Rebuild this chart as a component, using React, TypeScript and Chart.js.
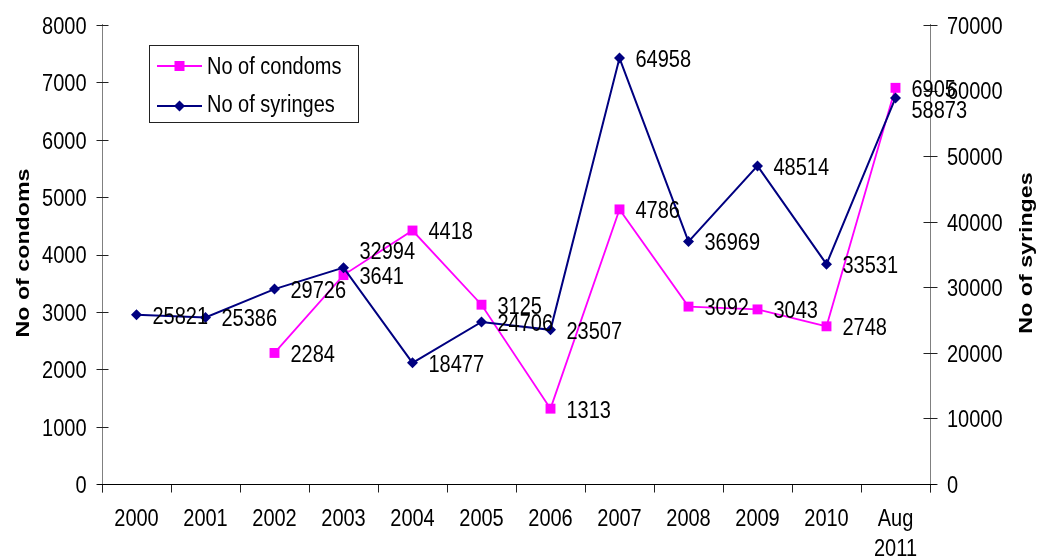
import React, { useEffect, useRef } from "react";
import { Chart, registerables } from "chart.js";

Chart.register(...registerables);

const categories: (string | string[])[] = [
  "2000", "2001", "2002", "2003", "2004", "2005", "2006", "2007", "2008", "2009", "2010", ["Aug", "2011"],
];
const condoms: (number | null)[] = [null, null, 2284, 3641, 4418, 3125, 1313, 4786, 3092, 3043, 2748, 6905];
const syringes: number[] = [25821, 25386, 29726, 32994, 18477, 24706, 23507, 64958, 36969, 48514, 33531, 58873];
const leftTicks = { min: 0, max: 8000, step: 1000 };
const rightTicks = { min: 0, max: 70000, step: 10000 };
const seriesNames = ["No of condoms", "No of syringes"];
const axisTitles = ["No of condoms", "No of syringes"];

// label nudges (style only)
const labelShift: Record<string, number> = { "1-3": -18, "1-11": 11 };

const PINK = "#FF00FF";
const NAVY = "#000080";
const FS = 20;
const SY = 1.24;
const FONT = `${FS}px "Liberation Sans", Arial, sans-serif`;
const BFS = 18.3;
const BFONT = `bold ${BFS}px "Liberation Sans", Arial, sans-serif`;

function txt(ctx: CanvasRenderingContext2D, s: string, x: number, cy: number, align: CanvasTextAlign, font = FONT, fs = FS) {
  ctx.save();
  ctx.translate(x, cy + 0.358 * fs * SY);
  ctx.scale(1, SY);
  ctx.font = font;
  ctx.textAlign = align;
  ctx.textBaseline = "alphabetic";
  ctx.fillStyle = "#000";
  ctx.fillText(s, 0, 0);
  ctx.restore();
}

function rotTxt(ctx: CanvasRenderingContext2D, s: string, baseX: number, cy: number) {
  ctx.save();
  ctx.translate(baseX, cy);
  ctx.rotate(-Math.PI / 2);
  ctx.scale(1.27, 1);
  ctx.font = BFONT;
  ctx.textAlign = "center";
  ctx.textBaseline = "alphabetic";
  ctx.fillStyle = "#000";
  ctx.fillText(s, 0, 0);
  ctx.restore();
}

const decorPlugin = {
  id: "decor",
  beforeDatasetsDraw(chart: any) {
    const ctx: CanvasRenderingContext2D = chart.ctx;
    const xs = chart.scales.x;
    const yl = chart.scales.y;
    const yr = chart.scales.y1;
    const a = chart.chartArea;
    const L = Math.round(a.left) + 0.5;
    const R = Math.round(a.right) + 0.5;
    const B = Math.round(a.bottom) + 0.5;
    ctx.save();
    ctx.lineWidth = 1;
    ctx.strokeStyle = "#808080";
    ctx.beginPath();
    ctx.moveTo(L, a.top - 1);
    ctx.lineTo(L, B + 8);
    ctx.moveTo(R, a.top - 1);
    ctx.lineTo(R, B + 8);
    ctx.stroke();
    ctx.strokeStyle = "#222";
    ctx.beginPath();
    for (let v = leftTicks.min; v <= leftTicks.max; v += leftTicks.step) {
      const y = Math.round(yl.getPixelForValue(v)) + 0.5;
      ctx.moveTo(L - 6, y);
      ctx.lineTo(L + 6, y);
    }
    for (let v = rightTicks.min; v <= rightTicks.max; v += rightTicks.step) {
      const y = Math.round(yr.getPixelForValue(v)) + 0.5;
      ctx.moveTo(R - 7, y);
      ctx.lineTo(R + 7, y);
    }
    const sp = xs.getPixelForValue(1) - xs.getPixelForValue(0);
    for (let i = 0; i <= categories.length; i++) {
      const x = Math.round(xs.getPixelForValue(i) - sp / 2) + 0.5;
      ctx.moveTo(x, B);
      ctx.lineTo(x, B + 8);
    }
    ctx.stroke();
    ctx.strokeStyle = "#000";
    ctx.beginPath();
    ctx.moveTo(L - 5, B);
    ctx.lineTo(R + 6, B);
    ctx.stroke();
    ctx.restore();

    for (let v = leftTicks.min; v <= leftTicks.max; v += leftTicks.step) {
      txt(ctx, String(v), L - 16, yl.getPixelForValue(v), "right");
    }
    for (let v = rightTicks.min; v <= rightTicks.max; v += rightTicks.step) {
      txt(ctx, String(v), R + 16.5, yr.getPixelForValue(v), "left");
    }
    categories.forEach((c, i) => {
      const x = xs.getPixelForValue(i);
      const lines = Array.isArray(c) ? c : [c];
      lines.forEach((ln, k) => txt(ctx, ln, x, B + 33 + k * 30, "center"));
    });
    rotTxt(ctx, axisTitles[0], 28.5, 253);
    rotTxt(ctx, axisTitles[1], 1031.5, 253);
  },
  afterDatasetsDraw(chart: any) {
    const ctx: CanvasRenderingContext2D = chart.ctx;
    chart.data.datasets.forEach((ds: any, di: number) => {
      const meta = chart.getDatasetMeta(di);
      meta.data.forEach((el: any, i: number) => {
        const v = ds.data[i];
        if (v === null || v === undefined) return;
        const sh = labelShift[`${di}-${i}`] || 0;
        txt(ctx, String(v), el.x + 16, el.y + sh, "left");
      });
    });
    ctx.save();
    ctx.fillStyle = "#fff";
    ctx.fillRect(150, 45, 208, 77);
    ctx.strokeStyle = "#222";
    ctx.lineWidth = 1;
    ctx.strokeRect(149.5, 45.5, 209, 77);
    const rows = [
      { y: 66, ty: 65, color: PINK, name: seriesNames[0], shape: "sq" },
      { y: 106, ty: 103, color: NAVY, name: seriesNames[1], shape: "dm" },
    ];
    rows.forEach((r) => {
      ctx.strokeStyle = r.color;
      ctx.lineWidth = 2;
      ctx.beginPath();
      ctx.moveTo(157, r.y);
      ctx.lineTo(202, r.y);
      ctx.stroke();
      ctx.fillStyle = r.color;
      const cx = 179.5;
      if (r.shape === "sq") {
        ctx.fillRect(cx - 5, r.y - 5, 10, 10);
      } else {
        ctx.beginPath();
        ctx.moveTo(cx, r.y - 5.5);
        ctx.lineTo(cx + 5.5, r.y);
        ctx.lineTo(cx, r.y + 5.5);
        ctx.lineTo(cx - 5.5, r.y);
        ctx.closePath();
        ctx.fill();
      }
      txt(ctx, r.name, 207, r.ty, "left");
    });
    ctx.restore();
  },
};

export default function App() {
  const ref = useRef<HTMLCanvasElement | null>(null);
  useEffect(() => {
    if (!ref.current) return;
    const chart = new Chart(ref.current, {
      type: "line",
      data: {
        labels: categories as any,
        datasets: [
          {
            label: seriesNames[0],
            data: condoms,
            yAxisID: "y",
            borderColor: PINK,
            backgroundColor: PINK,
            borderWidth: 1.8,
            pointStyle: "rect",
            pointRadius: 7,
            pointBorderWidth: 0,
            pointBackgroundColor: PINK,
            tension: 0,
            order: 1,
          },
          {
            label: seriesNames[1],
            data: syringes,
            yAxisID: "y1",
            borderColor: NAVY,
            backgroundColor: NAVY,
            borderWidth: 2,
            pointStyle: "rectRot",
            pointRadius: 5.5,
            pointBorderWidth: 0,
            pointBackgroundColor: NAVY,
            tension: 0,
            order: 0,
          },
        ],
      },
      options: {
        animation: false,
        responsive: false,
        devicePixelRatio: 1,
        layout: { padding: { top: 25, left: 0, right: 0, bottom: 0 } },
        plugins: { legend: { display: false }, tooltip: { enabled: false } },
        scales: {
          x: {
            type: "category",
            offset: true,
            grid: { display: false },
            border: { display: false },
            ticks: { display: false },
            afterFit: (s: any) => { s.height = 74; },
          },
          y: {
            position: "left",
            min: leftTicks.min,
            max: leftTicks.max,
            ticks: { display: false, stepSize: leftTicks.step },
            grid: { display: false },
            border: { display: false },
            afterFit: (s: any) => { s.width = 102; },
          },
          y1: {
            position: "right",
            min: rightTicks.min,
            max: rightTicks.max,
            ticks: { display: false, stepSize: rightTicks.step },
            grid: { display: false },
            border: { display: false },
            afterFit: (s: any) => { s.width = 107; },
          },
        },
      },
      plugins: [decorPlugin],
    });
    return () => chart.destroy();
  }, []);
  return (
    <div style={{ position: "fixed", left: 0, top: 0, width: 1037, height: 558, background: "#fff" }}>
      <canvas ref={ref} width={1037} height={558} style={{ display: "block" }} />
    </div>
  );
}
